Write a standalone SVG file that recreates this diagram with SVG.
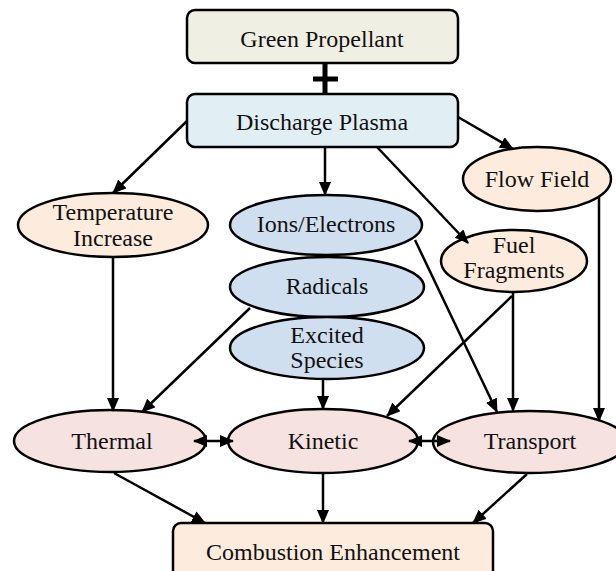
<svg xmlns="http://www.w3.org/2000/svg" width="616" height="571" viewBox="0 0 616 571">
<style>
.n{stroke:#000;stroke-width:2.5}
.t{font-family:"Liberation Serif","Times New Roman",Tinos,"DejaVu Serif",serif;font-size:24px;fill:#111;text-anchor:middle}
.c{stroke:#000;stroke-width:2.5;fill:none}
.a{marker-end:url(#ah)}
.d{marker-start:url(#ah);marker-end:url(#ah)}
.cream{fill:#EFEFE3}.sky{fill:#E1EFF5}.peach{fill:#FDEBDD}.blue{fill:#CFDFF0}.pink{fill:#F5E2E1}
</style>
<defs>
<marker id="ah" viewBox="0 0 14 12" refX="13" refY="6" markerWidth="14" markerHeight="12" markerUnits="userSpaceOnUse" orient="auto-start-reverse">
<path d="M0,0 L14,6 L0,12 z" fill="#000"/>
</marker>
</defs>
<rect width="616" height="571" fill="#fff"/>
<g id="green-propellant"><rect class="n cream" x="187" y="10" width="271" height="53" rx="8"/><text class="t" x="322" y="47">Green Propellant</text></g>
<g id="discharge-plasma"><rect class="n sky" x="187" y="94" width="271" height="53" rx="8"/><text class="t" x="322" y="130">Discharge Plasma</text></g>
<g id="temperature-increase"><ellipse class="n peach" cx="113" cy="225" rx="95" ry="32"/><text class="t" x="113" y="220">Temperature</text><text class="t" x="113" y="246">Increase</text></g>
<g id="flow-field"><ellipse class="n peach" cx="537" cy="179" rx="74" ry="32"/><text class="t" x="537" y="187">Flow Field</text></g>
<g id="fuel-fragments"><ellipse class="n peach" cx="514" cy="261" rx="73" ry="31"/><text class="t" x="514" y="253">Fuel</text><text class="t" x="514" y="278">Fragments</text></g>
<g id="ions-electrons"><ellipse class="n blue" cx="326" cy="225" rx="96" ry="30"/><text class="t" x="326" y="232">Ions/Electrons</text></g>
<g id="radicals"><ellipse class="n blue" cx="327" cy="287" rx="97" ry="30"/><text class="t" x="327" y="294">Radicals</text></g>
<g id="excited-species"><ellipse class="n blue" cx="327" cy="348" rx="97" ry="31"/><text class="t" x="327" y="343">Excited</text><text class="t" x="327" y="368">Species</text></g>
<g id="thermal"><ellipse class="n pink" cx="110" cy="441" rx="96" ry="31"/><text class="t" x="112" y="449">Thermal</text></g>
<g id="kinetic"><ellipse class="n pink" cx="323" cy="441" rx="95" ry="32"/><text class="t" x="323" y="449">Kinetic</text></g>
<g id="transport"><ellipse class="n pink" cx="530" cy="442" rx="97" ry="31"/><text class="t" x="530" y="449">Transport</text></g>
<g id="combustion-enhancement"><rect class="n peach" x="173" y="523" width="320" height="62" rx="8"/><text class="t" x="333" y="560">Combustion Enhancement</text></g>
<g id="connectors">
<path d="M325,63 V94 M313,79 H338" stroke="#000" stroke-width="5" fill="none"/>
<path class="c a" d="M187,121 L113,193"/>
<path class="c a" d="M325,147 L325,195"/>
<path class="c a" d="M377,147 L468,243"/>
<path class="c a" d="M458,117 L513,149"/>
<path class="c a" d="M113,257 L113,411"/>
<path class="c a" d="M250,308 L142,412"/>
<path class="c a" d="M415,240 L497,412"/>
<path class="c a" d="M512,296 L387,416"/>
<path class="c a" d="M513,293 L513,411"/>
<path class="c a" d="M599,197 L599,421"/>
<path class="c a" d="M323,379 L323,409"/>
<path class="c d" d="M194,441 L233,441"/>
<path class="c d" d="M409,441 L450,441"/>
<path class="c a" d="M114,473 L205,523"/>
<path class="c a" d="M323,473 L323,523"/>
<path class="c a" d="M527,474 L473,523"/>
</g>
</svg>
